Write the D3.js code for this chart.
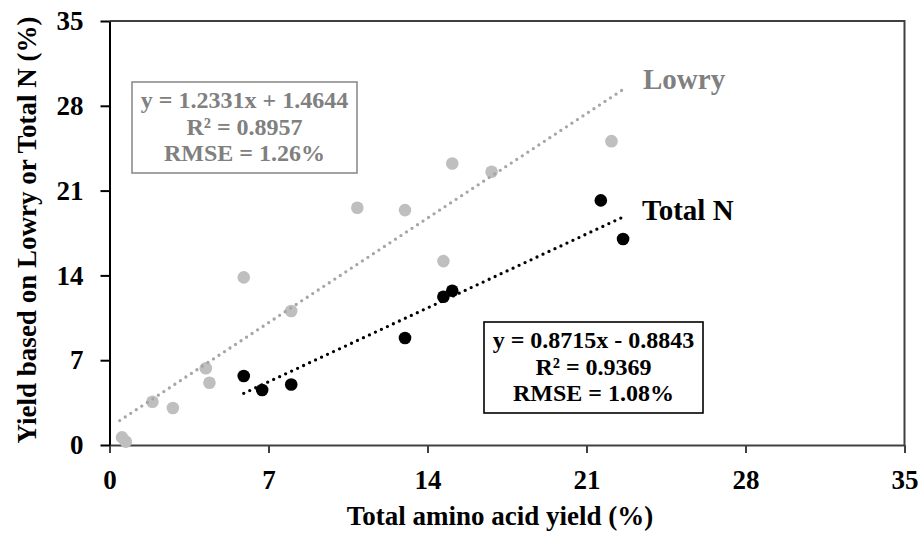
<!DOCTYPE html>
<html>
<head>
<meta charset="utf-8">
<script src="https://cdn.jsdelivr.net/npm/d3@7"></script>
<style>
  html, body { margin: 0; padding: 0; background: #fff; }
  svg text { font-family: "Liberation Serif", "Times New Roman", serif; font-weight: bold; }
</style>
</head>
<body>
<svg id="chart" width="922" height="536"></svg>
<script>
// Yield measured by Lowry assay (x = total amino acid yield, y = Lowry yield), %
const lowryX = [0.55, 0.72, 1.89, 2.79, 4.24, 4.40, 5.91, 8.00, 10.91, 13.01, 14.70, 15.09, 16.82, 22.10];
const lowryY = [0.63, 0.28, 3.57, 3.05, 6.33, 5.14, 13.84, 11.06, 19.58, 19.39, 15.18, 23.24, 22.55, 25.08];

// Yield based on total N, %
const totalNX = [5.91, 6.72, 8.00, 13.01, 14.70, 15.09, 21.63, 22.61];
const totalNY = [5.69, 4.54, 5.00, 8.83, 12.24, 12.73, 20.19, 17.00];

// Linear fits: [slope, intercept] and the x span each trend line covers
const lowryFit = [1.2331, 1.4644];
const lowryFitSpan = [0.45, 22.6];
const totalNFit = [0.8715, -0.8843];
const totalNFitSpan = [5.91, 22.61];

const lowryStats = ["y = 1.2331x + 1.4644", "R² = 0.8957", "RMSE = 1.26%"];
const totalNStats = ["y = 0.8715x - 0.8843", "R² = 0.9369", "RMSE = 1.08%"];

const tickValues = [0, 7, 14, 21, 28, 35];
const xTitle = "Total amino acid yield (%)";
const yTitle = "Yield based on Lowry or Total N (%)";

const svg = d3.select("#chart");
const x = d3.scaleLinear().domain([0, 35]).range([109.5, 904.5]);
const y = d3.scaleLinear().domain([0, 35]).range([445, 21]);

// plot frame (top and right edges)
svg.append("path")
  .attr("d", `M${x(0)},${y(35)}H${x(35)}V${y(0)}`)
  .attr("fill", "none").attr("stroke", "#404040").attr("stroke-width", 2);

// axes
const gx = svg.append("g").attr("transform", `translate(0,${y(0)})`)
  .call(d3.axisBottom(x).tickValues(tickValues).tickSizeInner(8).tickSizeOuter(0).tickPadding(17));
gx.select(".domain").attr("stroke", "#404040").attr("stroke-width", 2);
gx.selectAll(".tick line").attr("stroke", "#404040").attr("stroke-width", 2);
gx.selectAll(".tick text").attr("fill", "#000").style("font-size", "27px")
  .style("font-family", "'Liberation Serif', 'Times New Roman', serif").style("font-weight", "bold");

const gy = svg.append("g").attr("transform", `translate(${x(0)},0)`)
  .call(d3.axisLeft(y).tickValues(tickValues).tickSizeInner(9).tickSizeOuter(0).tickPadding(17));
gy.select(".domain").attr("stroke", "#000").attr("stroke-width", 2);
gy.selectAll(".tick line").attr("stroke", "#000").attr("stroke-width", 2);
gy.selectAll(".tick text").attr("fill", "#000").style("font-size", "27px")
  .style("font-family", "'Liberation Serif', 'Times New Roman', serif").style("font-weight", "bold");

// axis titles
svg.append("text").attr("x", (x(0) + x(35)) / 2 - 7).attr("y", 525)
  .attr("text-anchor", "middle").style("font-size", "27px").text(xTitle);
svg.append("text")
  .attr("transform", `translate(36,${(y(0) + y(35)) / 2 - 3}) rotate(-90)`)
  .attr("text-anchor", "middle").style("font-size", "27px").text(yTitle);

// scatter points
const lowryPts = lowryX.map((v, i) => [v, lowryY[i]]);
const totalNPts = totalNX.map((v, i) => [v, totalNY[i]]);

svg.append("g").selectAll("circle").data(lowryPts).join("circle")
  .attr("cx", d => x(d[0])).attr("cy", d => y(d[1])).attr("r", 6.3)
  .attr("fill", "#bfbfbf");
svg.append("g").selectAll("circle").data(totalNPts).join("circle")
  .attr("cx", d => x(d[0])).attr("cy", d => y(d[1])).attr("r", 6.3)
  .attr("fill", "#000");

// dotted trend lines
function trend(fit, span) {
  return span.map(v => [v, fit[0] * v + fit[1]]);
}
const line = d3.line().x(d => x(d[0])).y(d => y(d[1]));
svg.append("path").attr("d", line(trend(lowryFit, lowryFitSpan)))
  .attr("fill", "none").attr("stroke", "#a6a6a6").attr("stroke-width", 3.3)
  .attr("stroke-linecap", "round").attr("stroke-dasharray", "0 6.6");
svg.append("path").attr("d", line(trend(totalNFit, totalNFitSpan)))
  .attr("fill", "none").attr("stroke", "#000").attr("stroke-width", 3.3)
  .attr("stroke-linecap", "round").attr("stroke-dasharray", "0 6.6");

// series labels
svg.append("text").attr("x", 643).attr("y", 89).attr("fill", "#808080")
  .style("font-size", "29px").text("Lowry");
svg.append("text").attr("x", 642).attr("y", 220).attr("fill", "#000")
  .style("font-size", "29px").text("Total N");

// fit statistics boxes
function statBox(lines, box, color, border) {
  const g = svg.append("g");
  g.append("rect").attr("x", box[0]).attr("y", box[1])
    .attr("width", box[2]).attr("height", box[3])
    .attr("fill", "#fff").attr("stroke", border).attr("stroke-width", 1.6);
  g.selectAll("text").data(lines).join("text")
    .attr("x", box[0] + box[2] / 2).attr("y", (d, i) => box[1] + 26 + i * 26.5)
    .attr("text-anchor", "middle").attr("fill", color)
    .style("font-size", "24px").text(d => d);
}
statBox(lowryStats, [132, 82, 225, 91], "#808080", "#8c8c8c");
statBox(totalNStats, [484, 322, 219, 91], "#000", "#000");
</script>
</body>
</html>
